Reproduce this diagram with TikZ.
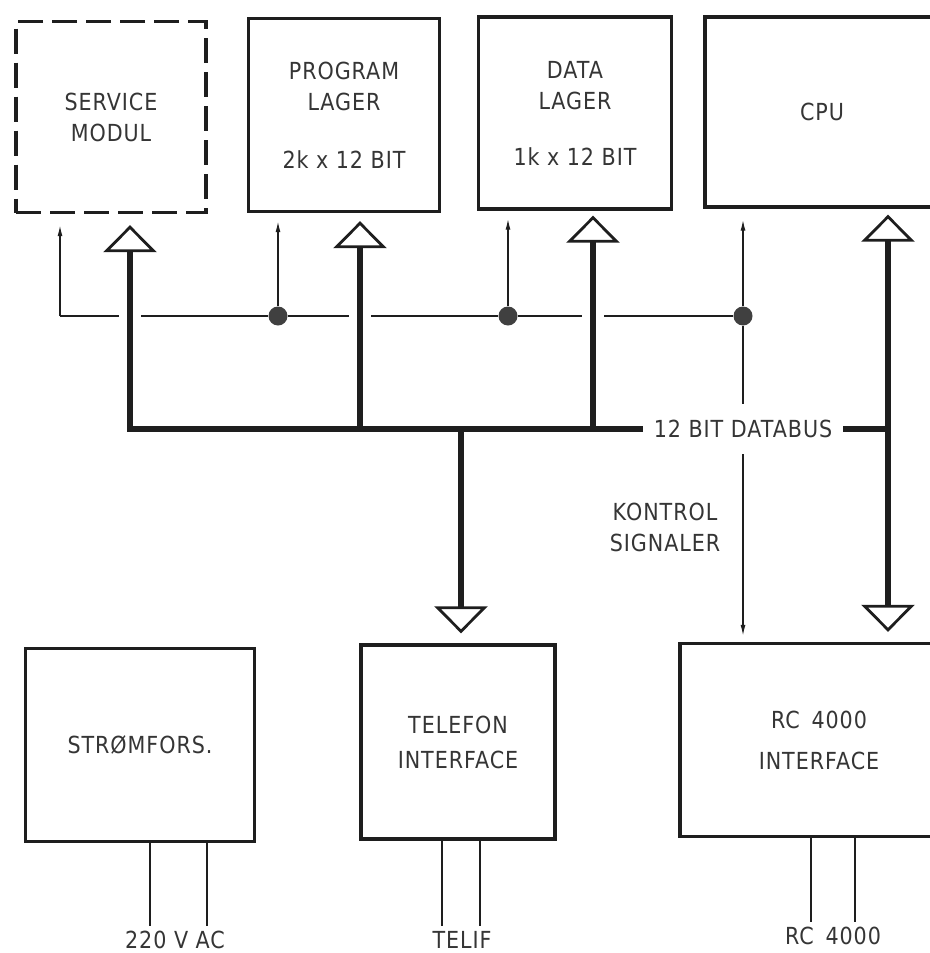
\documentclass[tikz,border=0pt]{standalone}
\usepackage{fontspec}
\setmainfont{DejaVu Sans}[FakeStretch=0.88, LetterSpace=4]
\usepackage{tikz}
\usetikzlibrary{arrows.meta,positioning}
\definecolor{ink}{HTML}{1E1E1E}

\begin{document}
\begin{tikzpicture}[
  x=1pt, y=-1pt,
  every node/.style={font=\fontsize{23.5}{31}\selectfont, text=ink!90, align=center},
  unit/.style={draw=ink, line width=3.4pt, inner sep=0pt},
  ctrl/.style={draw=ink, line width=1.3pt},
  ctrlarrow/.style={ctrl, -{Latex[length=11pt, width=5pt]}},
  bus/.style={draw=ink, line width=5.5pt},
  bustip/.tip={Triangle[open, width=53pt, length=27pt, line width=2.8pt]},
  busarrow/.style={bus, -bustip},
  halo/.style={preaction={draw=white, line width=22pt, -}},
  dot/.style={circle, fill=ink!85, inner sep=0pt, minimum size=19pt},
  leadlabel/.style={inner ysep=5pt},
]
\useasboundingbox (0,0) rectangle (929,953);

% Top row of units
\node[unit, dashed, dash pattern=on 25pt off 9pt, minimum width=190pt, minimum height=191pt]
  (svc) at (111,117) {SERVICE\\MODUL};
\node[unit, minimum width=191pt, minimum height=193pt]
  (prog) at (344,115) {PROGRAM\\LAGER\\[27pt]2k x 12 BIT};
\node[unit, minimum width=193pt, minimum height=192pt]
  (data) at (575,113) {DATA\\LAGER\\[25pt]1k x 12 BIT};
\node[unit, minimum width=234pt, minimum height=190pt]
  (cpu) at (822,112) {CPU};

% Bottom row of units
\node[unit, minimum width=229pt, minimum height=193pt]
  (psu) at (140,745) {STRØMFORS.};
\node[unit, minimum width=194pt, minimum height=194pt]
  (tel) at (458,742) {TELEFON\\[4pt]INTERFACE};
\node[unit, minimum width=278pt, minimum height=193pt]
  (rc) at (819,740) {RC\enspace 4000\\[10pt]INTERFACE};

% Control lines
\coordinate (corner) at (60,316);
\node[dot] (d1) at (278,316) {};
\node[dot] (d2) at (508,316) {};
\node[dot] (d3) at (743,316) {};
\draw[ctrl] (corner) -- (d1) -- (d2) -- (d3);
\draw[ctrlarrow, shorten >=11pt] (corner) -- (corner |- svc.south);
\draw[ctrlarrow, shorten >=8pt] (d1) -- (d1 |- prog.south);
\draw[ctrlarrow, shorten >=8pt] (d2) -- (d2 |- data.south);
\draw[ctrlarrow, shorten >=11pt] (d3) -- (d3 |- cpu.south);
\draw[ctrlarrow, shorten >=6pt] (d3) -- (d3 |- rc.north);

% Databus
\coordinate (svcX) at (130,429);
\coordinate (progX) at (360,429);
\coordinate (dataX) at (593,429);
\coordinate (telX) at (461,429);
\coordinate (cpuX) at (888,429);
\draw[busarrow, halo, shorten >=11pt] (svcX) -- (svcX |- svc.south);
\draw[busarrow, halo, shorten >=8pt] (progX) -- (progX |- prog.south);
\draw[busarrow, halo, shorten >=5pt] (dataX) -- (dataX |- data.south);
\draw[busarrow, shorten >=10pt] (telX) -- (telX |- tel.north);
\draw[bus, bustip-bustip, shorten <=10pt, shorten >=6pt] (cpuX |- rc.north) -- (cpuX |- cpu.south);
\draw[bus, line cap=rect] (svcX) -- (cpuX);
\node[fill=white, inner xsep=11pt, inner ysep=16pt] (buslabel) at (743,429) {12 BIT DATABUS};
\node (kontrol) at (665,527) {KONTROL\\SIGNALER};

% External leads
\node[leadlabel] (mains) at (175,940) {220 V AC};
\node[leadlabel] (telif) at (462,940) {TELIF};
\node[leadlabel] (rclead) at (833,936) {RC\enspace 4000};
\draw[ctrl] ([xshift=10pt]psu.south) -- ([xshift=10pt]psu.south |- mains.north);
\draw[ctrl] ([xshift=67pt]psu.south) -- ([xshift=67pt]psu.south |- mains.north);
\draw[ctrl] ([xshift=-16pt]tel.south) -- ([xshift=-16pt]tel.south |- telif.north);
\draw[ctrl] ([xshift=22pt]tel.south) -- ([xshift=22pt]tel.south |- telif.north);
\draw[ctrl] ([xshift=-8pt]rc.south) -- ([xshift=-8pt]rc.south |- rclead.north);
\draw[ctrl] ([xshift=36pt]rc.south) -- ([xshift=36pt]rc.south |- rclead.north);
\end{tikzpicture}
\end{document}
